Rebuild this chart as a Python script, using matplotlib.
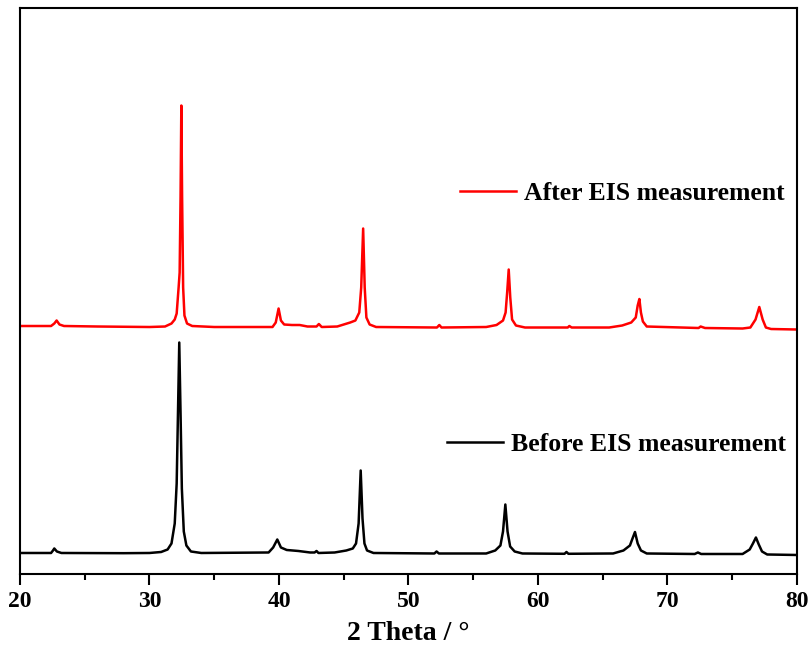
import numpy as np
import matplotlib
matplotlib.use("Agg")
import matplotlib.pyplot as plt
from matplotlib.lines import Line2D
from matplotlib.ticker import MultipleLocator

plt.rcParams['font.family'] = ['Liberation Serif', 'DejaVu Serif']
plt.rcParams['font.weight'] = 'bold'

# traced XRD patterns (2theta, intensity above own baseline, arbitrary units)
before_2theta = [20.0, 22.4, 22.55, 22.65, 22.85, 23.2, 28.0, 30.0, 30.9, 31.4, 31.7, 31.95,
                 32.1, 32.2, 32.3, 32.4, 32.5, 32.65, 32.85, 33.2, 34.0, 39.2, 39.55, 39.87,
                 40.15, 40.6, 41.5, 42.4, 42.75, 42.9, 43.05, 44.3, 45.2, 45.7, 45.95, 46.15,
                 46.31, 46.45, 46.6, 46.8, 47.3, 52.0, 52.17, 52.35, 56.0, 56.7, 57.1, 57.3,
                 57.48, 57.65, 57.85, 58.2, 58.8, 62.05, 62.2, 62.35, 65.8, 66.6, 67.1, 67.3,
                 67.49, 67.7, 67.95, 68.4, 72.1, 72.35, 72.6, 75.8, 76.35, 76.6, 76.83, 77.05,
                 77.3, 77.7, 80.0]
before_int = [0.5, 0.5, 3, 5, 2, 0.5, 0.3, 0.5, 1.5, 4, 10, 30,
              70, 140, 211, 140, 65, 22, 8, 2, 0.5, 1, 6, 14,
              6, 3.5, 2.5, 1, 1, 2.5, 0.5, 1, 3, 5, 10, 30,
              83, 35, 10, 3, 0.5, 0, 2, 0, 0, 3, 8, 22,
              49, 22, 7, 2, 0, -0.3, 1.5, -0.3, 0, 3, 8, 15,
              21.5, 10, 3, 0, -0.5, 1, -0.5, -0.5, 4, 10, 16, 9,
              2, -1, -1.5]

after_2theta = [20.0, 22.4, 22.65, 22.83, 23.05, 23.4, 26.0, 30.0, 31.2, 31.7, 31.95, 32.1,
                32.25, 32.33, 32.4, 32.46, 32.52, 32.6, 32.7, 32.9, 33.3, 35.0, 39.5, 39.75,
                39.97, 40.15, 40.4, 41.0, 41.6, 42.2, 42.9, 43.08, 43.3, 44.5, 45.0, 45.5,
                45.9, 46.2, 46.35, 46.5, 46.62, 46.75, 47.0, 47.5, 52.2, 52.38, 52.55, 56.0,
                56.8, 57.3, 57.5, 57.62, 57.74, 57.86, 58.0, 58.3, 59.0, 62.3, 62.42, 62.6,
                65.5, 66.5, 67.2, 67.55, 67.7, 67.83, 67.95, 68.1, 68.4, 72.4, 72.56, 72.9,
                75.8, 76.4, 76.8, 77.09, 77.35, 77.6, 78.0, 80.0]
after_int = [1.5, 1.5, 4, 7, 3, 1.5, 1, 0.5, 1, 4, 8, 14,
             40, 55, 130, 222, 130, 40, 12, 4, 1.5, 0.5, 0.5, 5,
             19, 7, 3, 2.5, 2.5, 1, 1, 3.5, 0.5, 1, 3, 5,
             7, 15, 40, 99, 40, 10, 3, 0.5, 0, 2.5, 0, 0.5,
             2.5, 7, 15, 35, 58, 30, 8, 2, 0, 0, 1.5, 0,
             0, 2, 5, 10, 22, 28.5, 15, 6, 1, -0.5, 1, -0.5,
             -1, 0, 8, 20.5, 8, 0, -1.5, -2]

after_offset = 226

fig = plt.figure(figsize=(8.12, 6.53), dpi=100)
ax = fig.add_axes([0.0246, 0.121, 0.9569, 0.8667])

ax.plot(before_2theta, before_int, color='black', lw=1.8)
ax.plot(after_2theta, np.array(after_int) + after_offset, color='red', lw=1.8)

ax.set_xlim(20, 80)
ax.set_ylim(-20.5, 545.5)
ax.xaxis.set_major_locator(MultipleLocator(10))
ax.xaxis.set_minor_locator(MultipleLocator(5))
ax.set_yticks([])
ax.tick_params(axis='x', which='major', direction='out', length=8, width=1.5,
               labelsize=17, pad=4)
ax.tick_params(axis='x', which='minor', direction='out', length=4.5, width=1.5)
for s in ax.spines.values():
    s.set_linewidth(1.5)
ax.set_xlabel('2 Theta / °', fontsize=20, fontweight='bold', labelpad=7)

leg1 = ax.legend([Line2D([], [], color='red', lw=1.8)], ['After EIS measurement'],
                 loc='center left', bbox_to_anchor=(0.566, 0.672), frameon=False,
                 borderpad=0, borderaxespad=0, handlelength=2.2, handletextpad=0.3,
                 prop={'size': 18.5, 'weight': 'bold'})
ax.add_artist(leg1)
ax.legend([Line2D([], [], color='black', lw=1.8)], ['Before EIS measurement'],
          loc='center left', bbox_to_anchor=(0.549, 0.229), frameon=False,
          borderpad=0, borderaxespad=0, handlelength=2.2, handletextpad=0.3,
          prop={'size': 18.5, 'weight': 'bold'})

fig.savefig('out.png', dpi=100)
